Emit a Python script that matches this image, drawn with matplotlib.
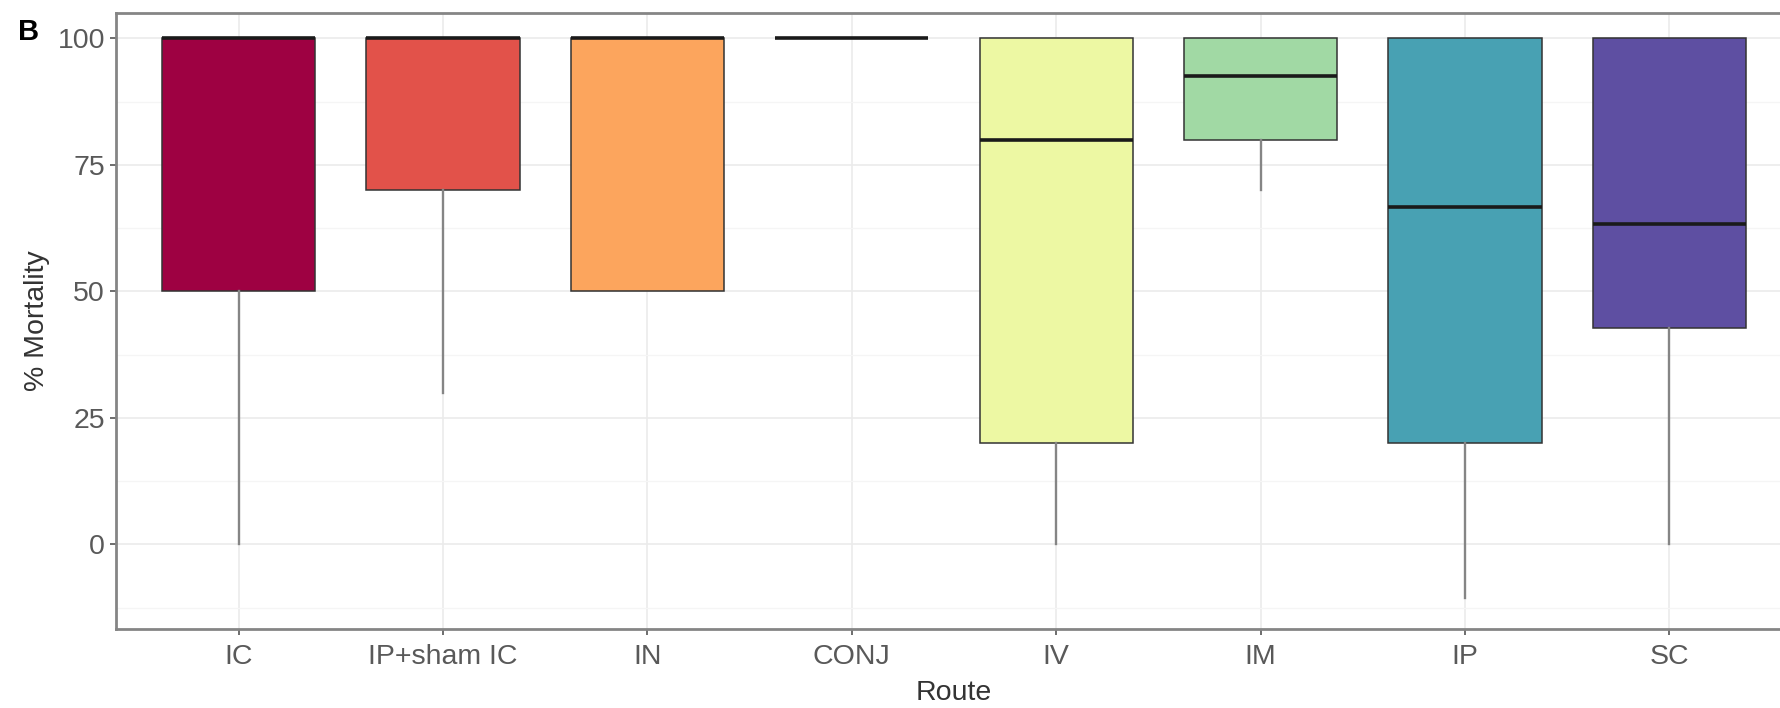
import matplotlib
matplotlib.use("Agg")
import matplotlib.pyplot as plt
from matplotlib.ticker import MultipleLocator

plt.rcParams["font.family"] = ["Liberation Sans", "DejaVu Sans"]

# one box per route (% mortality)
routes = ["IC", "IP+sham IC", "IN", "CONJ", "IV", "IM", "IP", "SC"]
q1 = [50, 70, 50, 100, 20, 80, 20, 42.8]
median = [100, 100, 100, 100, 80, 92.5, 66.7, 63.3]
q3 = [100, 100, 100, 100, 100, 100, 100, 100]
whisk_lo = [0, 30, 50, 100, 0, 70, -10.5, 0]
whisk_hi = [100, 100, 100, 100, 100, 100, 100, 100]

# Spectral ramp, 8 steps
colors = ["#9E0142", "#E2524A", "#FCA55D", "#FEE99A",
          "#EDF8A3", "#A1D9A4", "#48A1B3", "#5E4FA2"]

W, H = 1781, 708
fig = plt.figure(figsize=(W / 100, H / 100), dpi=100)
# panel runs a little past the right edge of the canvas
ax = fig.add_axes([116 / W, 1 - 629 / H, (1792 - 116) / W, (629 - 13) / H])

stats = []
for name, lo, a, m, b, hi in zip(routes, whisk_lo, q1, median, q3, whisk_hi):
    stats.append(dict(label=name, whislo=lo, q1=a, med=m, q3=b, whishi=hi, fliers=[]))

pos = list(range(1, len(routes) + 1))
bp = ax.bxp(stats, positions=pos, widths=0.75, patch_artist=True, showcaps=False,
            boxprops=dict(edgecolor="#333333", linewidth=1.1),
            whiskerprops=dict(color="#858585", linewidth=1.7),
            medianprops=dict(color="#1a1a1a", linewidth=2.6, solid_capstyle="butt"),
            zorder=3)
for patch, c in zip(bp["boxes"], colors):
    patch.set_facecolor(c)

ax.set_xlim(0.4, 8.6)
ax.set_ylim(-16.7, 105.0)
ax.set_xticks(pos)
ax.set_xticklabels(routes)
ax.yaxis.set_major_locator(MultipleLocator(25))
ax.yaxis.set_minor_locator(MultipleLocator(12.5))

ax.grid(which="major", color="#ebebeb", linewidth=1.2, zorder=0)
ax.grid(which="minor", axis="y", color="#f5f5f5", linewidth=0.9, zorder=0)
ax.set_axisbelow(True)

for s in ax.spines.values():
    s.set_color("#858585")
    s.set_linewidth(2.0)

ax.tick_params(which="major", length=4, width=1.2, color="#555555",
               labelsize=20.5, labelcolor="#595959")
ax.tick_params(axis="x", pad=7)
ax.tick_params(axis="y", pad=4)
ax.tick_params(which="minor", length=0)

ax.set_xlabel("Route", fontsize=20.5, color="#333333", labelpad=7)
ax.set_ylabel("% Mortality", fontsize=20.5, color="#333333", labelpad=5)

fig.text(18 / W, 1 - 32 / H, "B", fontsize=21, fontweight="bold", va="center", ha="left")

fig.savefig("out.png", dpi=100)
